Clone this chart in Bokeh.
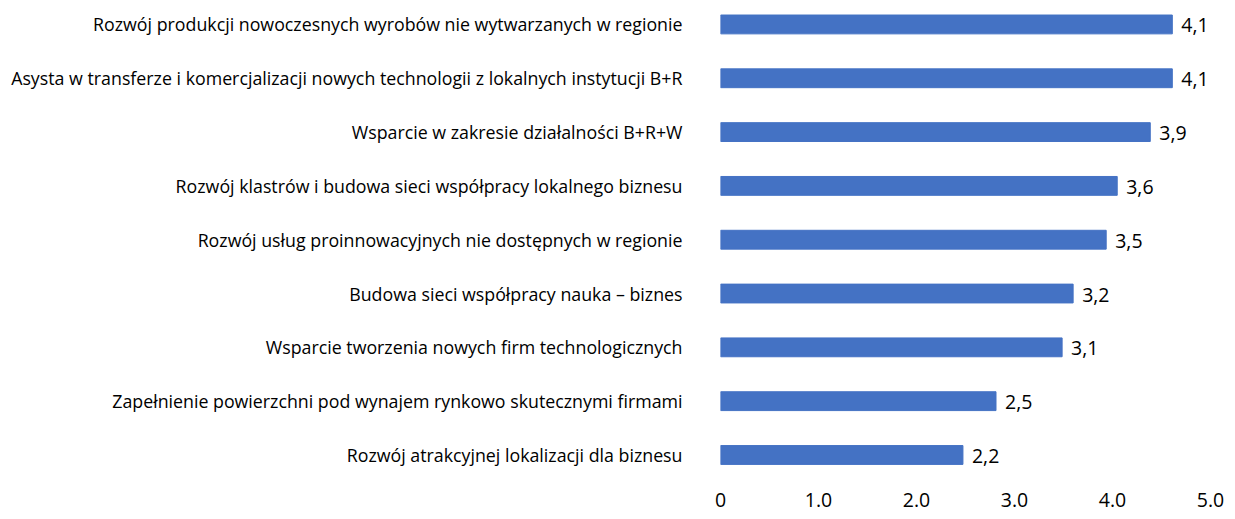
from bokeh.plotting import figure
from bokeh.models import Range1d, LinearAxis, FixedTicker, ColumnDataSource
from bokeh.embed import file_html
from bokeh.resources import INLINE
from bokeh.core.properties import value

categories = [
    "Rozwój produkcji nowoczesnych wyrobów nie wytwarzanych w regionie",
    "Asysta w transferze i komercjalizacji nowych technologii z lokalnych instytucji B+R",
    "Wsparcie w zakresie działalności B+R+W",
    "Rozwój klastrów i budowa sieci współpracy lokalnego biznesu",
    "Rozwój usług proinnowacyjnych nie dostępnych w regionie",
    "Budowa sieci współpracy nauka – biznes",
    "Wsparcie tworzenia nowych firm technologicznych",
    "Zapełnienie powierzchni pod wynajem rynkowo skutecznymi firmami",
    "Rozwój atrakcyjnej lokalizacji dla biznesu",
]
values = [4.1, 4.1, 3.9, 3.6, 3.5, 3.2, 3.1, 2.5, 2.2]
axis_ticks = [0, 1, 2, 3, 4, 5]
axis_tick_labels = ["0", "1.0", "2.0", "3.0", "4.0", "5.0"]

FONT = "Open Sans"
n = len(categories)
ypos = [n - 1 - i for i in range(n)]
labels = [f"{v:.1f}".replace(".", ",") for v in values]
src = ColumnDataSource(dict(y=ypos, v=values, lab=labels, cat=categories))

p = figure(width=1227, height=511, output_backend="svg", toolbar_location=None,
           x_range=Range1d(0, 499 / 110.2), y_range=Range1d(-0.53, n - 1 + 0.445),
           min_border_left=720, min_border_right=8, min_border_top=0,
           min_border_bottom=28, x_axis_location=None)
p.outline_line_color = None
p.xgrid.visible = False
p.ygrid.visible = False

p.hbar(y="y", right="v", left=0, height=0.35, color="#4472C4", source=src)
p.text(x="v", y="y", text="lab", source=src, x_offset=9, y_offset=1,
       text_baseline="middle", text_align="left", text_font=value(FONT),
       text_font_size="19.5px", text_color="#000000")

# y axis with category labels
ya = p.yaxis[0]
ya.ticker = FixedTicker(ticks=ypos)
ya.major_label_overrides = {y: c for y, c in zip(ypos, categories)}
ya.axis_line_color = None
ya.major_tick_line_color = None
ya.minor_tick_line_color = None
ya.major_label_standoff = 32
ya.major_label_text_font = FONT
ya.major_label_text_font_size = "17.8px"
ya.major_label_text_color = "#000000"

# bottom value axis
p.extra_x_ranges = {"ax": Range1d(0, 499 / 98.0)}
xa = LinearAxis(x_range_name="ax", ticker=FixedTicker(ticks=axis_ticks))
xa.major_label_overrides = {t: l for t, l in zip(axis_ticks, axis_tick_labels)}
xa.axis_line_color = None
xa.major_tick_line_color = None
xa.minor_tick_line_color = None
xa.major_label_standoff = 3
xa.major_label_text_font = FONT
xa.major_label_text_font_size = "19.5px"
xa.major_label_text_color = "#000000"
p.add_layout(xa, "below")

open("out.html", "w").write(file_html(p, INLINE))
